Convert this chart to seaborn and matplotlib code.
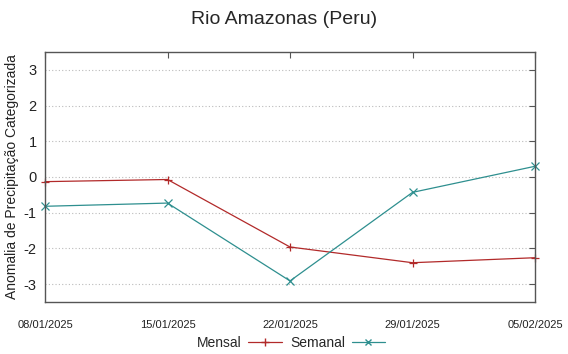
import matplotlib
matplotlib.use("Agg")
import matplotlib.pyplot as plt
import matplotlib.dates as mdates
from matplotlib.lines import Line2D
import seaborn as sns
import pandas as pd

dates = ["2025-01-08", "2025-01-15", "2025-01-22", "2025-01-29", "2025-02-05"]
mensal = [-0.13, -0.07, -1.96, -2.40, -2.26]
semanal = [-0.82, -0.73, -2.91, -0.43, 0.30]
series_names = ["Mensal", "Semanal"]
y_ticks = [-3, -2, -1, 0, 1, 2, 3]

df = pd.DataFrame({
    "data": pd.to_datetime(dates * 2),
    "valor": mensal + semanal,
    "serie": [series_names[0]] * len(dates) + [series_names[1]] * len(dates),
})

sns.set_style("white")
plt.rcParams["font.family"] = ["Liberation Sans", "DejaVu Sans"]

fig = plt.figure(figsize=(5.68, 3.54), dpi=100)
ax = fig.add_axes([45 / 568, 1 - 302 / 354, 490 / 568, 250 / 354])

palette = {"Mensal": "#b22a2a", "Semanal": "#2e8f8f"}
sns.lineplot(data=df, x="data", y="valor", hue="serie", style="serie",
             markers={"Mensal": "+", "Semanal": "x"}, dashes=False,
             palette=palette, linewidth=0.9, markersize=5.5,
             ax=ax, legend=False)
# marker edges take the line colour; keep edge markers whole
for ln in ax.get_lines():
    ln.set_markeredgecolor(ln.get_color())
    ln.set_markeredgewidth(0.9)
    ln.set_clip_on(False)

ax.set_xlim(pd.Timestamp(dates[0]), pd.Timestamp(dates[-1]))
ax.set_ylim(-3.5, 3.5)
ax.set_yticks(y_ticks)
ax.set_yticklabels([str(v) for v in y_ticks], fontsize=10.5, color="#222222")
ax.set_xticks(pd.to_datetime(dates))
ax.xaxis.set_major_formatter(mdates.DateFormatter("%d/%m/%Y"))
for lbl in ax.get_xticklabels():
    lbl.set_fontsize(8)
    lbl.set_color("#222222")
ax.tick_params(axis="both", direction="in", length=4, width=0.8, color="#555555",
               top=True, right=True)
ax.tick_params(axis="x", pad=13)
ax.tick_params(axis="y", pad=6)

ax.grid(axis="y", linestyle=(0, (1, 2)), color="#bbbbbb", linewidth=0.8)
ax.grid(axis="x", visible=False)
for sp in ax.spines.values():
    sp.set_color("#555555")
    sp.set_linewidth(1.0)

ax.set_xlabel("")
ax.set_ylabel("Anomalia de Precipitação Categorizada", fontsize=10, color="#222222", labelpad=3)
fig.suptitle("Rio Amazonas (Peru)", fontsize=14, y=1 - 20 / 354, va="center")

handles = [
    Line2D([], [], color=palette["Mensal"], marker="+", linewidth=0.9, markersize=6),
    Line2D([], [], color=palette["Semanal"], marker="x", linewidth=0.9, markersize=5),
]
fig.legend(handles, series_names, loc="center", bbox_to_anchor=(0.512, 1 - 343 / 354),
           ncol=2, frameon=False, markerfirst=False, fontsize=10,
           handlelength=2.4, columnspacing=0.6, handletextpad=0.5)

fig.savefig("out.png", dpi=100)
